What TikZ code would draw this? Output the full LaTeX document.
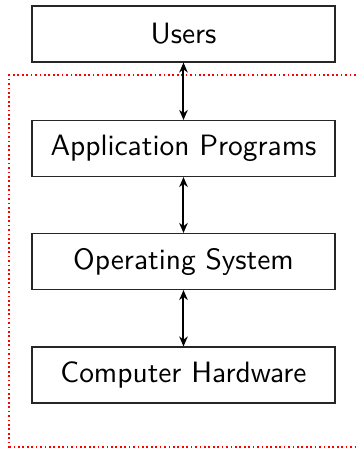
\documentclass[tikz,border=0pt]{standalone}
\usetikzlibrary{arrows.meta}
\begin{document}
\begin{tikzpicture}[x=0.35pt,y=-0.35pt,
  layer/.style={draw=black!85, line width=0.4pt, minimum width=303*0.35pt, minimum height=56*0.35pt, inner sep=0pt, font=\sffamily\fontsize{10.3}{12}\selectfont},
  link/.style={{Stealth[length=3.5pt,width=3pt]}-{Stealth[length=3.5pt,width=3pt]}, line width=0.7pt},
  boundary/.style={red, line width=0.7pt, line cap=butt, dash pattern=on 0.6pt off 0.95pt}]
\useasboundingbox (0,0) rectangle (357,449);
\begin{scope}
\clip (0,0) rectangle (357,449);
\draw[boundary] (400,75) -- (9.5,75) -- (9.5,446.5) -- (400,446.5);
\end{scope}
\node[layer] (users) at (183.5,34) {Users};
\node[layer] (app) at (183.5,148.5) {Application Programs};
\node[layer] (os) at (183.5,261.5) {Operating System};
\node[layer] (hw) at (183.5,375) {Computer Hardware};
\draw[link] (users) -- (app);
\draw[link] (app) -- (os);
\draw[link] (os) -- (hw);
\end{tikzpicture}
\end{document}
